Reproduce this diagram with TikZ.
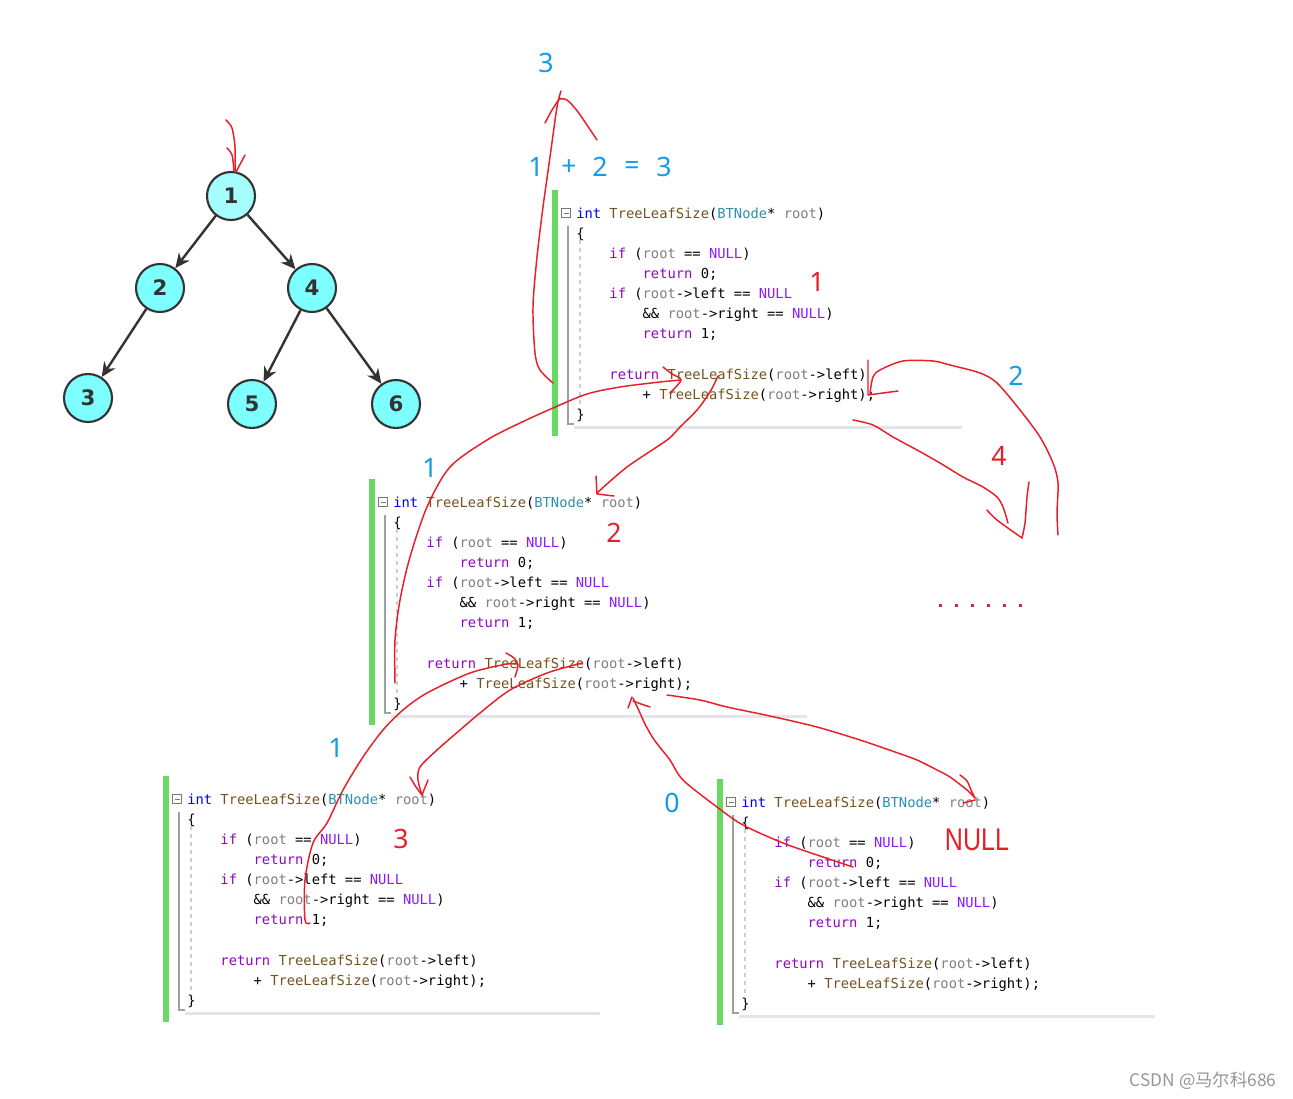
\documentclass[tikz,border=0pt]{standalone}
\usepackage{fontspec}
\usetikzlibrary{arrows.meta}
\setmainfont{Noto Sans}
\newfontfamily\codefont{DejaVu Sans Mono}
\newfontfamily\cjkfont{Noto Sans CJK SC}
\newfontfamily\annfont{Liberation Sans}
\newfontfamily\treefont{DejaVu Sans}
\definecolor{kwb}{RGB}{0,0,255}
\definecolor{fnc}{RGB}{116,83,31}
\definecolor{tyc}{RGB}{43,145,175}
\definecolor{pmc}{RGB}{128,128,128}
\definecolor{ctc}{RGB}{143,8,196}
\definecolor{mcc}{RGB}{138,27,255}
\definecolor{gbarc}{RGB}{106,217,100}
\definecolor{redc}{RGB}{232,30,40}
\definecolor{bluec}{RGB}{20,155,230}
\definecolor{nodec}{RGB}{125,255,255}
\definecolor{nodeca}{RGB}{166,255,255}
\definecolor{edgec}{RGB}{51,51,51}
\tikzset{
  cl/.style={anchor=base west, inner sep=0pt, font=\codefont\fontsize{10.34}{12}\selectfont, text=black},
  gbar/.style={fill=gbarc},
  gline/.style={draw={rgb,255:red,160;green,160;blue,160}, line width=1.1pt},
  dline/.style={draw={rgb,255:red,205;green,205;blue,205}, line width=0.8pt, dash pattern=on 3pt off 3pt},
  uline/.style={draw={rgb,255:red,228;green,228;blue,236}, line width=2.2pt},
  mbox/.style={draw={rgb,255:red,120;green,120;blue,120}, line width=0.6pt},
  tn/.style={circle, draw=edgec, line width=1.6pt, minimum size=36pt, inner sep=0pt, font=\treefont\bfseries\fontsize{16}{16}\selectfont, text=edgec},
  tedge/.style={draw=edgec, line width=1.8pt, -{Stealth[length=11pt,width=10pt]}},
  bt/.style={text=bluec, inner sep=0pt, font=\fontsize{20}{20}\selectfont},
  rt/.style={text=redc, inner sep=0pt, font=\fontsize{20}{20}\selectfont},
  rs/.style={draw=redc, line width=1.1pt, line cap=round, line join=round},
}
\newcommand\codeblk[4]{%
  \begin{scope}[shift={(#2,#3)}]
    \fill[gbar] (-24,-23) rectangle (-18,223);
    \draw[gline] (-8,13) -- (-8,211) -- (-2,211);
    \draw[dline] (4,27) -- (4,192);
    \draw[uline] (-2,214.5) -- (#4,214.5);
    \draw[mbox] (-14.5,-4.5) rectangle (-5.5,4.5);
    \draw[mbox] (-12.5,0) -- (-7.5,0);
    \node[cl] (#1l0) at (0,5) {\textcolor{kwb}{int} \textcolor{fnc}{TreeLeafSize}(\textcolor{tyc}{BTNode}* \textcolor{pmc}{root})};
    \node[cl] (#1l1) at (0,25.15) {\{};
    \node[cl] (#1l2) at (33.2,45.3) {\textcolor{ctc}{if} (\textcolor{pmc}{root} == \textcolor{mcc}{NULL})};
    \node[cl] (#1l3) at (66.4,65.45) {\textcolor{ctc}{return} 0;};
    \node[cl] (#1l4) at (33.2,85.6) {\textcolor{ctc}{if} (\textcolor{pmc}{root}->left == \textcolor{mcc}{NULL}};
    \node[cl] (#1l5) at (66.4,105.75) {\&\& \textcolor{pmc}{root}->right == \textcolor{mcc}{NULL})};
    \node[cl] (#1l6) at (66.4,125.9) {\textcolor{ctc}{return} 1;};
    \node[cl] (#1l8) at (33.2,166.2) {\textcolor{ctc}{return} \textcolor{fnc}{TreeLeafSize}(\textcolor{pmc}{root}->left)};
    \node[cl] (#1l9) at (66.4,186.35) {+ \textcolor{fnc}{TreeLeafSize}(\textcolor{pmc}{root}->right);};
    \node[cl] (#1l10) at (0,206.5) {\}};
  \end{scope}}
\begin{document}
\begin{tikzpicture}[x=0.75pt,y=-0.75pt]
\useasboundingbox (0,0) rectangle (1293,1099);
\fill[white] (0,0) rectangle (1293,1099);

% code blocks
\codeblk{A}{576}{213}{386}
\codeblk{B}{393}{502}{414}
\codeblk{C}{187}{799}{413}
\codeblk{D}{741}{802}{414}

% tree
\node[tn, fill=nodeca] (n1) at (231,196) {1};
\node[tn, fill=nodec] (n2) at (160,288) {2};
\node[tn, fill=nodec] (n4) at (312,288) {4};
\node[tn, fill=nodec] (n3) at (88,398) {3};
\node[tn, fill=nodec] (n5) at (252,404) {5};
\node[tn, fill=nodec] (n6) at (396,404) {6};
\draw[tedge] (n1) -- (n2);
\draw[tedge] (n1) -- (n4);
\draw[tedge] (n2) -- (n3);
\draw[tedge] (n4) -- (n5);
\draw[tedge] (n4) -- (n6);

% blue labels
\node[bt] (bthree) at (546,63) {3};
\node[bt] (eqa) at (536,167) {1};
\node[bt] (eqp) at (569,168) {+};
\node[bt] (eqb) at (600,167) {2};
\node[bt] (eqe) at (632,168) {=};
\node[bt] (eqc) at (664,167) {3};
\node[bt] (btwo) at (1016,376) {2};
\node[bt] (boneb) at (430,468) {1};
\node[bt] (bonec) at (336,748) {1};
\node[bt] (bzero) at (672,803) {0};

% red labels
\node[rt] (rone) at (817,282) {1};
\node[rt] (rtwo) at (614,533) {2};
\node[rt] (rfour) at (999,456) {4};
\node[rt] (rthree) at (401,839) {3};
\node[text=redc, inner sep=0pt, font=\annfont\fontsize{23.5}{23.5}\selectfont, xscale=0.8] (rnull) at (977,840) {NULL};
\foreach \dx in {940,956,972,988,1004,1020} \fill[redc] (\dx-1.5,603.5) rectangle (\dx+1.5,606.5);

% watermark
\node[text={rgb,255:red,150;green,150;blue,150}, inner sep=0pt, font=\cjkfont\fontsize{13}{13}\selectfont] (wm) at (1203,1081) {CSDN @马尔科686};

% red hand strokes
% S1 into node 1
\draw[rs] plot[smooth] coordinates {(226,120) (232,128) (235,147) (235,172)};
\draw[rs] plot[smooth] coordinates {(227,148) (232,155) (234,171)};
\draw[rs] (245,155) -- (236,172);
% S2 big up arrow
\draw[rs] plot[smooth] coordinates {(553,383) (540,370) (535,353) (533,307) (537,257) (543,207) (550,157) (557,107) (561,91)};
\draw[rs] plot[smooth] coordinates {(545,123) (552,110) (560,98)};
\draw[rs] plot[smooth] coordinates {(560,99) (567,100) (578,112) (597,140)};
% S3 from B left up to A
\draw[rs] plot[smooth] coordinates {(395,683) (395,640) (400,600) (410,557) (427,507) (450,467) (487,440) (520,423) (553,408) (587,394) (620,387) (660,382) (681,380)};
\draw[rs] plot[smooth] coordinates {(663,367) (672,374) (681,380) (670,393)};
% S4 from A down to B root
\draw[rs] plot[smooth] coordinates {(718,376) (710,392) (697,410) (680,427) (667,440) (627,467) (597,493)};
\draw[rs] (596,476) -- (597,494) -- (614,496);
% S5 right arc
\draw[rs] plot[smooth] coordinates {(870,393) (873,377) (880,370) (903,361) (933,361) (950,365) (980,373) (997,383) (1020,410) (1040,437) (1053,463) (1058,483) (1057,513) (1058,535)};
\draw[rs] (868,360) -- (868,395) -- (898,391);
% S6 arrow 4
\draw[rs] plot[smooth] coordinates {(853,420) (873,425) (893,437) (917,450) (940,463) (963,477) (983,487) (997,497) (1003,507) (1008,523)};
\draw[rs] plot[smooth] coordinates {(987,510) (997,520) (1022,538)};
\draw[rs] plot[smooth] coordinates {(1022,538) (1025,523) (1027,497) (1029,482)};
% S7 from C up to B
\draw[rs] plot[smooth] coordinates {(310,923) (305,920) (305,880) (313,843) (327,823) (343,790) (363,757) (383,730) (403,710) (427,693) (470,673) (507,664) (517,664)};
\draw[rs] plot[smooth] coordinates {(506,653) (514,658) (518,665) (515,677)};
% S8 from B down to C root
\draw[rs] plot[smooth] coordinates {(582,663) (547,673) (510,690) (480,713) (460,730) (437,750) (420,767) (418,780) (422,795)};
\draw[rs] plot[smooth] coordinates {(410,777) (416,787) (422,795)};
\draw[rs] (422,795) -- (428,780);
% S9 from D up to B right
\draw[rs] plot[smooth] coordinates {(853,867) (823,857) (783,843) (743,825) (717,807) (683,780) (670,760) (655,741) (646,726) (640,713) (633,698)};
\draw[rs] (628,708) -- (632,697);
\draw[rs] plot[smooth] coordinates {(633,701) (641,704) (650,707)};
% S10 from B right to D root
\draw[rs] plot[smooth] coordinates {(667,695) (700,700) (727,707) (770,716) (817,727) (860,740) (895,752) (917,760) (937,770) (950,777) (967,790) (975,798)};
\draw[rs] plot[smooth] coordinates {(960,775) (967,781) (971,790) (975,798)};
\draw[rs] (963,803) -- (975,800);
\end{tikzpicture}
\end{document}
